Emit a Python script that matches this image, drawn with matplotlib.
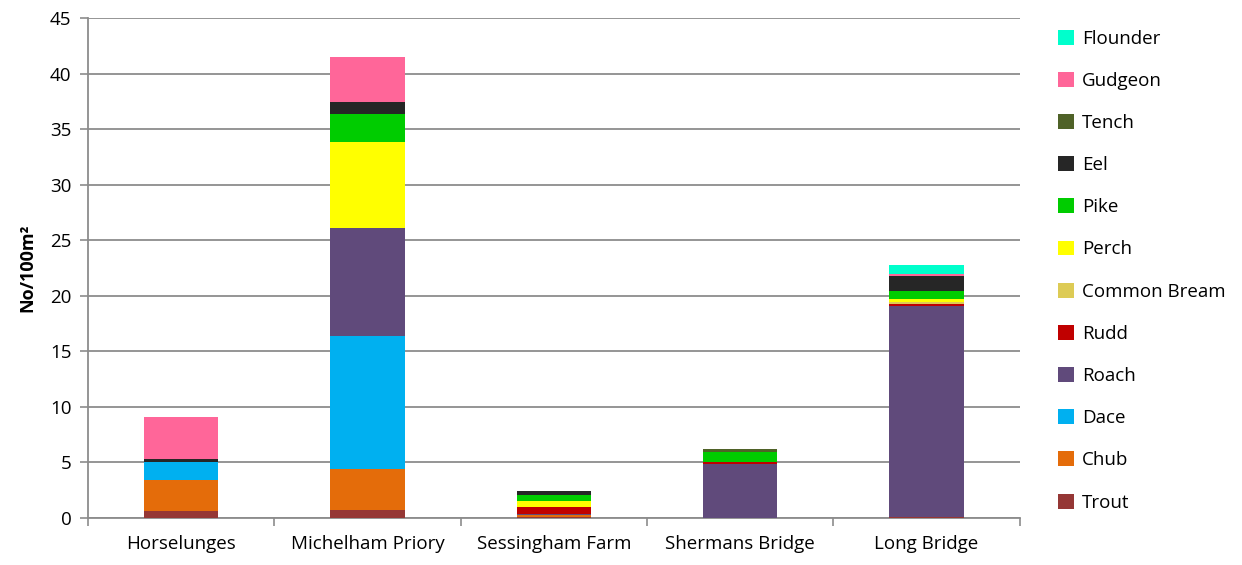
import matplotlib.pyplot as plt
from matplotlib.patches import Patch
import numpy as np

sites = ["Horselunges", "Michelham Priory", "Sessingham Farm", "Shermans Bridge", "Long Bridge"]

# stacked from the bottom up, No/100m2 per site
trout = [0.6, 0.68, 0.05, 0.0, 0.05]
chub = [2.85, 3.7, 0.2, 0.0, 0.0]
dace = [1.55, 12.0, 0.0, 0.0, 0.0]
roach = [0.0, 9.7, 0.15, 4.88, 19.05]
rudd = [0.0, 0.0, 0.6, 0.15, 0.18]
common_bream = [0.0, 0.0, 0.0, 0.0, 0.15]
perch = [0.0, 7.74, 0.5, 0.0, 0.3]
pike = [0.0, 2.55, 0.6, 0.9, 0.66]
eel = [0.3, 1.05, 0.3, 0.0, 1.35]
tench = [0.0, 0.0, 0.0, 0.3, 0.0]
gudgeon = [3.75, 4.05, 0.0, 0.0, 0.18]
flounder = [0.0, 0.0, 0.0, 0.0, 0.81]

species = ["Trout", "Chub", "Dace", "Roach", "Rudd", "Common Bream",
           "Perch", "Pike", "Eel", "Tench", "Gudgeon", "Flounder"]
series = [trout, chub, dace, roach, rudd, common_bream,
          perch, pike, eel, tench, gudgeon, flounder]
colours = ["#953735", "#E46C0A", "#00B0F0", "#604A7B", "#C00000", "#DDCB55",
           "#FFFF00", "#00CC00", "#262626", "#4F6228", "#FF6699", "#00FFCC"]

plt.rcParams['font.family'] = ['Open Sans', 'DejaVu Sans']

fig = plt.figure(figsize=(12.42, 5.65), dpi=100)
ax = fig.add_axes([0.0709, 0.0832, 0.7500, 0.8850])

x = np.arange(len(sites))
bottom = np.zeros(len(sites))
for name, vals, col in zip(species, series, colours):
    vals = np.array(vals)
    ax.bar(x, vals, width=0.4, bottom=bottom, color=col, label=name, zorder=3)
    bottom += vals

ax.set_xlim(-0.5, len(sites) - 0.5)
ax.set_ylim(0, 45)
ax.set_yticks(range(0, 46, 5))
ax.set_xticks(x)
ax.set_xticklabels(sites, fontsize=13.5)
ax.set_xticks(np.arange(-0.5, len(sites), 1), minor=True)
ax.tick_params(axis='x', which='major', length=0, pad=12)
ax.tick_params(axis='x', which='minor', length=6, color='#8c8c8c', width=1.2)
ax.tick_params(axis='y', length=6, color='#8c8c8c', width=1.2, labelsize=13.5, pad=6)
ax.grid(axis='y', color='#8c8c8c', linewidth=1.3, zorder=0)
for s in ['top', 'right']:
    ax.spines[s].set_visible(False)
for s in ['left', 'bottom']:
    ax.spines[s].set_color('#8c8c8c')
    ax.spines[s].set_linewidth(1.3)

ax.set_ylabel("No/100m²", fontsize=13, fontweight='bold', labelpad=10)

handles = [Patch(facecolor=c, label=n) for n, c in zip(species, colours)][::-1]
fig.legend(handles=handles, loc='upper left', bbox_to_anchor=(0.8455, 0.961),
           frameon=False, fontsize=13.5, handlelength=0.85, handleheight=0.85,
           handletextpad=0.45, labelspacing=1.29, borderaxespad=0)

fig.savefig("out.png", dpi=100)
